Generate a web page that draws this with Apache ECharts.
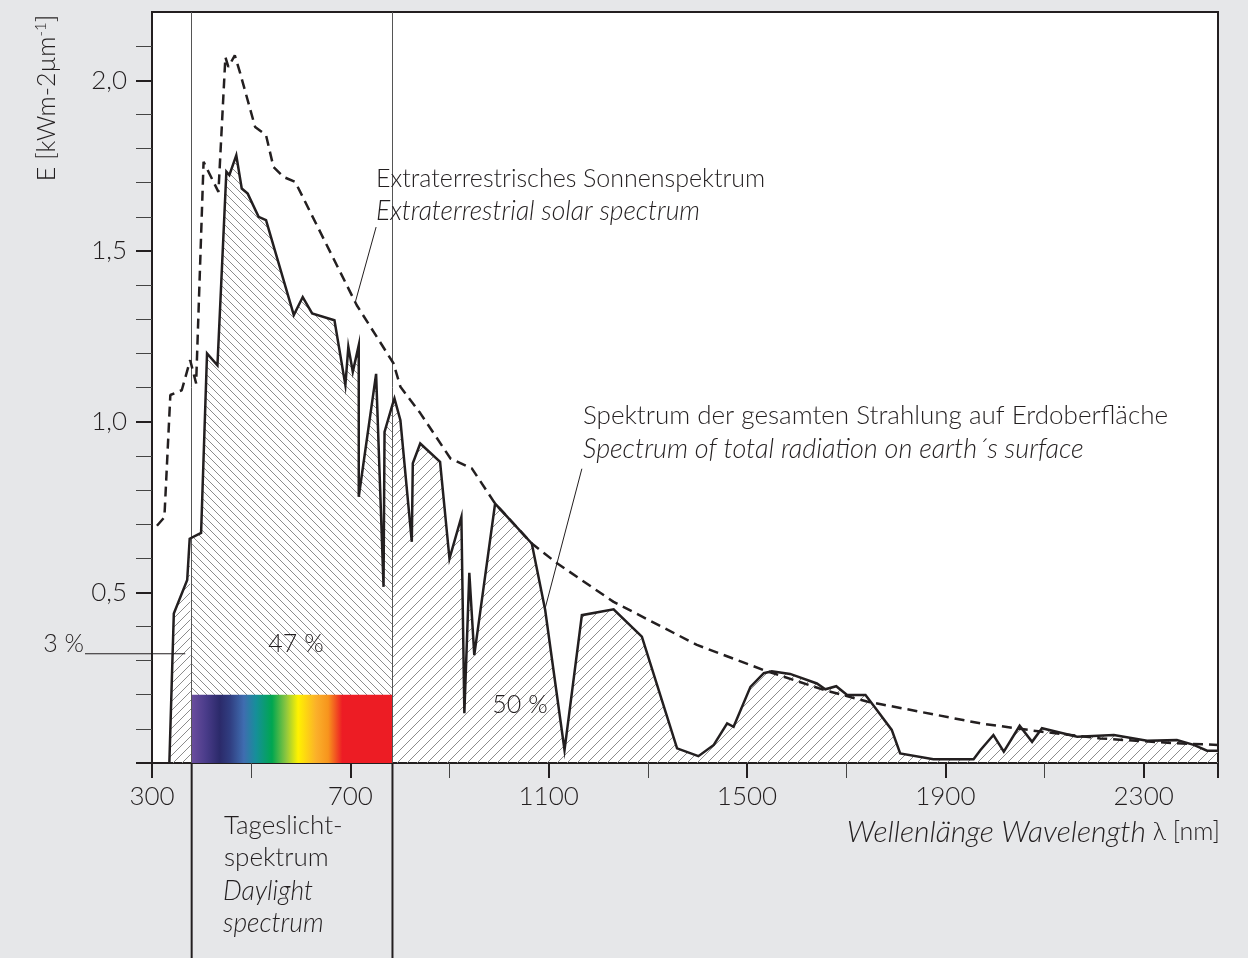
<!DOCTYPE html>
<html>
<head>
<meta charset="utf-8">
<title>Sonnenspektrum</title>
<script src="https://cdn.jsdelivr.net/npm/echarts@6/dist/echarts.min.js"></script>
<style>
  html, body { margin: 0; padding: 0; background: #e6e7e9; }
  #chart { width: 1248px; height: 958px; }
</style>
</head>
<body>
<div id="chart"></div>
<script>
// Extraterrestrial solar spectrum (dashed), wavelength in nm / irradiance in kW m^-2 µm^-1
const extraNm  = [310, 325, 337, 360, 377, 389, 404, 434, 448, 454, 467, 478, 508, 530, 545, 565, 589, 713, 787, 801, 841, 902, 945, 992, 1066, 1117, 1231, 1399, 1534, 1655, 1742, 1971, 2092, 2213, 2361, 2450];
const extraVal = [0.695, 0.72, 1.078, 1.092, 1.18, 1.112, 1.761, 1.673, 2.068, 2.039, 2.073, 2.02, 1.863, 1.839, 1.746, 1.717, 1.702, 1.341, 1.171, 1.102, 1.025, 0.892, 0.863, 0.760, 0.643, 0.585, 0.472, 0.346, 0.272, 0.214, 0.180, 0.116, 0.092, 0.072, 0.058, 0.053];

// Total radiation at the earth's surface (solid, hatched)
const groundNm  = [335, 344, 371, 376, 380, 399, 411, 432, 450, 456, 470, 481, 493, 515, 530, 586, 604, 623, 668, 690, 696, 705, 717, 717, 752, 767, 769, 785, 789, 801, 824, 826, 841, 881, 900, 924, 930, 940, 950, 992, 1066, 1093, 1132, 1167, 1231, 1288, 1359, 1402, 1433, 1460, 1473, 1507, 1534, 1550, 1587, 1641, 1658, 1680, 1702, 1739, 1762, 1792, 1809, 1876, 1957, 1971, 1997, 2018, 2050, 2075, 2095, 2166, 2240, 2307, 2367, 2401, 2428, 2450];
const groundVal = [0, 0.438, 0.536, 0.657, 0.662, 0.674, 1.20, 1.165, 1.732, 1.722, 1.780, 1.683, 1.668, 1.600, 1.590, 1.312, 1.365, 1.317, 1.297, 1.107, 1.219, 1.146, 1.224, 0.78, 1.14, 0.516, 0.970, 1.05, 1.068, 1.004, 0.648, 0.878, 0.936, 0.882, 0.599, 0.721, 0.146, 0.557, 0.316, 0.760, 0.643, 0.448, 0.038, 0.433, 0.450, 0.370, 0.043, 0.020, 0.053, 0.116, 0.106, 0.223, 0.263, 0.269, 0.261, 0.233, 0.216, 0.225, 0.199, 0.199, 0.155, 0.097, 0.028, 0.011, 0.011, 0.038, 0.082, 0.033, 0.109, 0.062, 0.102, 0.077, 0.082, 0.065, 0.067, 0.053, 0.036, 0.036];

// Daylight band (nm) and height of the colour strip
const daylightRange = [380, 785];
const daylightBarTop = 0.2;
const uvShareLevel = 0.32;

// Axis ticks and labels
const xMajorTicks = [300, 700, 1100, 1500, 1900, 2300, 2450];
const xMinorTicks = [500, 900, 1300, 1700, 2100];
const xLabels = [300, 700, 1100, 1500, 1900, 2300];
const yMajorTicks = [0, 0.5, 1.0, 1.5, 2.0];
const yMinorTicks = [0.1, 0.2, 0.3, 0.4, 0.6, 0.7, 0.8, 0.9, 1.1, 1.2, 1.3, 1.4, 1.6, 1.7, 1.8, 1.9, 2.1];
const yLabels = [0.5, 1.0, 1.5, 2.0];

const INK = '#231f20';
const FONT = "Lato, 'Open Sans', 'Noto Sans', sans-serif";
const SIZE = 25;        // upright text
const SIZE_IT = 26.5;   // italic text

const zip = (xs, ys) => xs.map((x, i) => [x, ys[i]]);
const extraData = zip(extraNm, extraVal);
const groundData = zip(groundNm, groundVal);
const uvPart = groundData.filter(p => p[0] <= daylightRange[0]);
const visPart = groundData.filter(p => p[0] >= daylightRange[0] && p[0] <= daylightRange[1]);
const irPart = groundData.filter(p => p[0] >= daylightRange[1]);

// Diagonal hatch tiles
function hatch(size, rising) {
  const c = document.createElement('canvas');
  c.width = size; c.height = size;
  const g = c.getContext('2d');
  g.strokeStyle = '#8c8c8c';
  g.lineWidth = 1;
  g.beginPath();
  if (rising) {
    g.moveTo(0, size); g.lineTo(size, 0);
    g.moveTo(-1, 1); g.lineTo(1, -1);
    g.moveTo(size - 1, size + 1); g.lineTo(size + 1, size - 1);
  } else {
    g.moveTo(0, 0); g.lineTo(size, size);
    g.moveTo(-1, size - 1); g.lineTo(1, size + 1);
    g.moveTo(size - 1, -1); g.lineTo(size + 1, 1);
  }
  g.stroke();
  return { image: c, repeat: 'repeat' };
}

const rainbow = new echarts.graphic.LinearGradient(0, 0, 1, 0, [
  { offset: 0.00, color: '#6b4e9e' },
  { offset: 0.07, color: '#4a3c8a' },
  { offset: 0.14, color: '#2b2a6a' },
  { offset: 0.19, color: '#303d80' },
  { offset: 0.26, color: '#3f6db0' },
  { offset: 0.32, color: '#168f9a' },
  { offset: 0.40, color: '#00a650' },
  { offset: 0.47, color: '#8dc63f' },
  { offset: 0.53, color: '#fff200' },
  { offset: 0.62, color: '#fbb02a' },
  { offset: 0.68, color: '#f7941d' },
  { offset: 0.75, color: '#ed1c24' },
  { offset: 1.00, color: '#ed1c24' }
]);

const gridRect = { left: 152, top: 12, right: 30, bottom: 195 };
const X_MIN = 300, X_MAX = 2450, Y_MIN = 0, Y_MAX = 2.2;
const labelStyle = { color: INK, fontFamily: FONT, fontSize: 26, fontWeight: 300 };

const option = {
  animation: false,
  backgroundColor: '#e6e7e9',
  grid: [
    Object.assign({ show: true, backgroundColor: '#ffffff', borderColor: INK, borderWidth: 2 }, gridRect),
    Object.assign({ show: false }, gridRect)
  ],
  xAxis: [
    {
      type: 'value', gridIndex: 0, min: X_MIN, max: X_MAX,
      axisLine: { show: true, onZero: false, lineStyle: { color: INK, width: 2 } },
      axisTick: { show: true, customValues: xMajorTicks, length: 15, lineStyle: { color: INK, width: 2 } },
      axisLabel: Object.assign({ customValues: xLabels, margin: 21, formatter: v => String(v) }, labelStyle),
      splitLine: { show: false }
    },
    {
      type: 'value', gridIndex: 1, min: X_MIN, max: X_MAX,
      axisLine: { show: false },
      axisTick: { show: true, customValues: xMinorTicks, length: 15, lineStyle: { color: '#444', width: 1 } },
      axisLabel: { show: false },
      splitLine: { show: false }
    }
  ],
  yAxis: [
    {
      type: 'value', gridIndex: 0, min: Y_MIN, max: Y_MAX,
      axisLine: { show: true, onZero: false, lineStyle: { color: INK, width: 2 } },
      axisTick: { show: true, customValues: yMajorTicks, length: 16, lineStyle: { color: INK, width: 2 } },
      axisLabel: Object.assign({
        customValues: yLabels, margin: 25,
        formatter: v => v.toFixed(1).replace('.', ',')
      }, labelStyle),
      splitLine: { show: false }
    },
    {
      type: 'value', gridIndex: 1, min: Y_MIN, max: Y_MAX,
      axisLine: { show: false },
      axisTick: { show: true, customValues: yMinorTicks, length: 16, lineStyle: { color: '#444', width: 1 } },
      axisLabel: { show: false },
      splitLine: { show: false }
    }
  ],
  series: [
    {
      name: 'uv', type: 'line', data: uvPart, showSymbol: false, z: 1, silent: true,
      lineStyle: { width: 0 }, areaStyle: { color: hatch(9, true), opacity: 1 }
    },
    {
      name: 'visible', type: 'line', data: visPart, showSymbol: false, z: 1, silent: true,
      lineStyle: { width: 0 }, areaStyle: { color: hatch(8, false), opacity: 1 }
    },
    {
      name: 'ir', type: 'line', data: irPart, showSymbol: false, z: 1, silent: true,
      lineStyle: { width: 0 }, areaStyle: { color: hatch(10, true), opacity: 1 }
    },
    {
      name: 'daylight', type: 'line', data: [], z: 2, silent: true,
      markArea: {
        silent: true, z: 3,
        itemStyle: { color: rainbow, opacity: 1 },
        data: [[{ coord: [daylightRange[0], 0] }, { coord: [daylightRange[1], daylightBarTop] }]]
      },
      markLine: {
        silent: true, z: 3, symbol: ['none', 'none'], label: { show: false },
        lineStyle: { color: '#555', width: 1, type: 'solid' },
        data: daylightRange.map(x => ({ xAxis: x }))
      }
    },
    {
      name: 'Extraterrestrisches Sonnenspektrum', type: 'line', data: extraData,
      showSymbol: false, z: 4, silent: true,
      lineStyle: { color: INK, width: 2.5, type: [10, 6] }
    },
    {
      name: 'Spektrum der gesamten Strahlung auf Erdoberfläche', type: 'line', data: groundData,
      showSymbol: false, z: 5, silent: true,
      lineStyle: { color: INK, width: 2.5, join: 'miter' }
    }
  ]
};

const chart = echarts.init(document.getElementById('chart'), null, { renderer: 'canvas' });
chart.setOption(option);

const toPx = (x, y) => chart.convertToPixel({ gridIndex: 0 }, [x, y]);
const text = (x, y, str, extra) => ({
  type: 'text', x: x, y: y, silent: true, z: 10,
  style: Object.assign({
    text: str, fill: INK, fontFamily: FONT, fontSize: SIZE, fontWeight: 300,
    align: 'left', verticalAlign: 'middle'
  }, extra || {})
});
const italic = { fontStyle: 'italic', fontSize: SIZE_IT };
const line = (a, b, w) => ({
  type: 'line', silent: true, z: 10,
  shape: { x1: a[0], y1: a[1], x2: b[0], y2: b[1] },
  style: { stroke: INK, lineWidth: w }
});

const graphics = [];
// Daylight band boundaries continued below the axis
daylightRange.forEach(x => {
  const p = toPx(x, 0);
  graphics.push(line([p[0], p[1]], [p[0], 958], 2));
});
// Share of the UV part
const uvY = toPx(0, uvShareLevel)[1];
graphics.push(line([85, uvY], [toPx(367, 0)[0], uvY], 1));
graphics.push(text(84, uvY - 10, '3 %', { align: 'right' }));
graphics.push(text(296, 644, '47 %', { align: 'center' }));
graphics.push(text(520, 705, '50 %', { align: 'center' }));

// Curve annotations with leader lines
graphics.push(text(376, 179, 'Extraterrestrisches Sonnenspektrum'));
graphics.push(text(376, 211, 'Extraterrestrial solar spectrum', italic));
graphics.push(line(toPx(752, 1.57), toPx(710, 1.35), 1));
graphics.push(text(583, 416, 'Spektrum der gesamten Strahlung auf Erdoberfläche', { fontSize: 26 }));
graphics.push(text(583, 449, 'Spectrum of total radiation on earth\u00b4s surface', { fontStyle: 'italic', fontSize: 27 }));
graphics.push(line(toPx(1167, 0.862), toPx(1092, 0.448), 1));

// Axis titles
graphics.push(text(1220, 832, '{i|Wellenlänge Wavelength} λ [nm]', {
  align: 'right',
  rich: { i: { fontStyle: 'italic', fontFamily: FONT, fontSize: 30, fontWeight: 300, fill: INK } }
}));
graphics.push(text(224, 826, 'Tageslicht-', { fontSize: 26 }));
graphics.push(text(224, 858, 'spektrum', { fontSize: 26 }));
graphics.push(text(223, 891, 'Daylight', italic));
graphics.push(text(223, 923, 'spectrum', italic));
graphics.push({
  type: 'text', x: 47, y: 98, rotation: Math.PI / 2, silent: true, z: 10,
  style: {
    text: 'E [kWm-2µm{s|-1}]', fill: INK, fontFamily: FONT, fontSize: 25, fontWeight: 300,
    align: 'center', verticalAlign: 'middle', lineHeight: 27,
    rich: { s: { fontSize: 15, fontFamily: FONT, fontWeight: 300, fill: INK, verticalAlign: 'top', lineHeight: 15 } }
  }
});

chart.setOption({ graphic: graphics });
</script>
</body>
</html>
